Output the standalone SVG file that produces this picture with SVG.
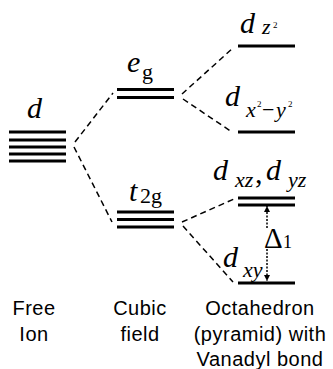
<svg xmlns="http://www.w3.org/2000/svg" width="333" height="369" viewBox="0 0 333 369">
<style>
.lvl{stroke:#000;stroke-width:3;fill:none}
.dash{stroke:#000;stroke-width:1.5;stroke-dasharray:6 4;fill:none}
.m{font-family:"Liberation Serif","Times New Roman",serif;font-style:italic;font-size:30px;fill:#000}
.s{font-family:"Liberation Serif","Times New Roman",serif;font-style:italic;font-size:22px;fill:#000}
.r{font-family:"Liberation Serif","Times New Roman",serif;font-size:22px;fill:#000}
.sup{font-family:"Liberation Serif","Times New Roman",serif;font-size:9px;fill:#000}
.lab{font-family:"Liberation Sans",Arial,sans-serif;font-size:20px;letter-spacing:0.5px;fill:#000;text-anchor:middle}
</style>
<defs>
<marker id="ah" viewBox="0 0 10 10" refX="10" refY="5" markerWidth="6" markerHeight="6" orient="auto" markerUnits="userSpaceOnUse">
<path d="M0,0 L10,5 L0,10 z" fill="#000"/>
</marker>
</defs>
<rect width="333" height="369" fill="#fff"/>
<g id="connectors">
<line class="dash" x1="75" y1="142" x2="113" y2="93"/>
<line class="dash" x1="74" y1="147" x2="112" y2="222"/>
<line class="dash" x1="182" y1="94" x2="233" y2="48"/>
<line class="dash" x1="183" y1="99" x2="232" y2="132"/>
<line class="dash" x1="182" y1="222" x2="234" y2="199"/>
<line class="dash" x1="183" y1="226" x2="233" y2="282"/>
<line x1="267" y1="228" x2="267" y2="206" stroke="#000" stroke-width="1.5" stroke-dasharray="2 1.5" marker-end="url(#ah)"/>
<line x1="267" y1="249" x2="267" y2="281" stroke="#000" stroke-width="1.5" stroke-dasharray="2 1.5" marker-end="url(#ah)"/>
</g>
<g id="free-ion">
<line class="lvl" x1="9" y1="132" x2="66" y2="132"/>
<line class="lvl" x1="9" y1="140" x2="66" y2="140"/>
<line class="lvl" x1="9" y1="147" x2="66" y2="147"/>
<line class="lvl" x1="9" y1="154" x2="66" y2="154"/>
<line class="lvl" x1="9" y1="161" x2="66" y2="161"/>
<text class="m" x="27" y="118">d</text>
</g>
<g id="eg">
<line class="lvl" x1="117" y1="89.5" x2="174" y2="89.5"/>
<line class="lvl" x1="117" y1="97.5" x2="174" y2="97.5"/>
<text class="m" x="127" y="72">e</text>
<text class="r" x="142" y="79">g</text>
</g>
<g id="t2g">
<line class="lvl" x1="117" y1="212" x2="174" y2="212"/>
<line class="lvl" x1="117" y1="219.5" x2="174" y2="219.5"/>
<line class="lvl" x1="117" y1="227" x2="174" y2="227"/>
<text class="m" x="129" y="201">t</text>
<text class="r" x="140" y="203">2g</text>
</g>
<g id="dz2">
<line class="lvl" x1="238" y1="46" x2="295" y2="46"/>
<text class="m" x="240" y="33">d</text>
<text class="s" x="262" y="34">z</text>
<text class="sup" x="273" y="28">2</text>
</g>
<g id="dx2y2">
<line class="lvl" x1="238" y1="132" x2="295" y2="132"/>
<text class="m" x="225" y="106">d</text>
<text class="s" x="246" y="117">x</text>
<text class="sup" x="257" y="107">2</text>
<text class="r" x="262" y="117">−</text>
<text class="s" x="276" y="117">y</text>
<text class="sup" x="288" y="107">2</text>
</g>
<g id="dxzdyz">
<line class="lvl" x1="238" y1="198" x2="295" y2="198"/>
<line class="lvl" x1="238" y1="205" x2="295" y2="205"/>
<text class="m" x="213" y="180">d</text>
<text class="s" x="235" y="187">xz</text>
<text class="m" x="255" y="183" style="font-style:normal">,</text>
<text class="m" x="266" y="180">d</text>
<text class="s" x="288" y="187">yz</text>
</g>
<g id="dxy">
<line class="lvl" x1="238" y1="283" x2="295" y2="283"/>
<text class="m" x="223" y="267">d</text>
<text class="s" x="243" y="277">xy</text>
</g>
<g id="delta">
<text x="264" y="248" font-family="'Liberation Serif','Times New Roman',serif" font-size="29" fill="#000">Δ</text>
<text x="283" y="248" font-family="'Liberation Serif','Times New Roman',serif" font-size="18" fill="#000">1</text>
</g>
<g id="labels">
<text class="lab" x="34" y="315">Free</text>
<text class="lab" x="34" y="341">Ion</text>
<text class="lab" x="140" y="315">Cubic</text>
<text class="lab" x="140" y="341">field</text>
<text class="lab" x="260" y="315">Octahedron</text>
<text class="lab" x="260" y="341">(pyramid) with</text>
<text class="lab" x="260" y="366">Vanadyl bond</text>
</g>
</svg>
